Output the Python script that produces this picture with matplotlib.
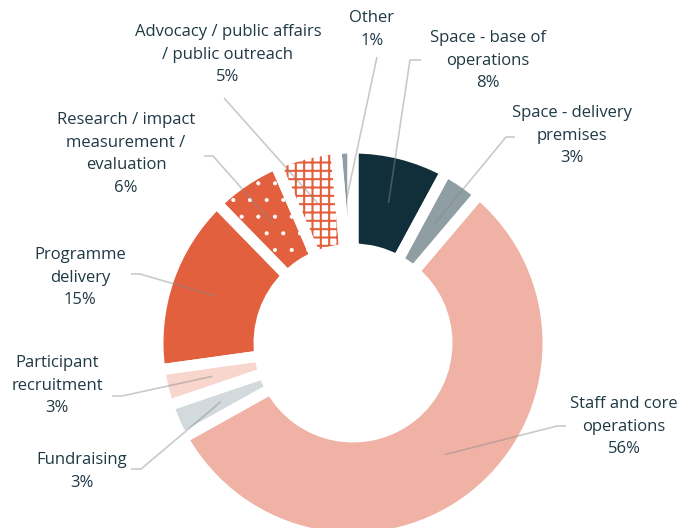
import matplotlib
matplotlib.use("Agg")
import matplotlib.pyplot as plt
import numpy as np

W, H = 681, 528

# ---- data ----
categories = ["Space - base of operations", "Space - delivery premises",
              "Staff and core operations", "Fundraising", "Participant recruitment",
              "Programme delivery", "Research / impact measurement / evaluation",
              "Advocacy / public affairs / public outreach", "Other"]
shares = [7.9, 3.3, 55.7, 2.9, 3.0, 14.9, 5.8, 5.1, 1.4]
pct_labels = ["8%", "3%", "56%", "3%", "3%", "15%", "6%", "5%", "1%"]
label_lines = [
    ["Space - base of", "operations"],
    ["Space - delivery", "premises"],
    ["Staff and core", "operations"],
    ["Fundraising"],
    ["Participant", "recruitment"],
    ["Programme", "delivery"],
    ["Research / impact", "measurement /", "evaluation"],
    ["Advocacy / public affairs", "/ public outreach"],
    ["Other"],
]

# ---- styles ----
ORANGE = "#E3603F"
face_colors = ["#102F3B", "#8E9EA3", "#F0B2A5", "#D3DADD", "#F8D6CE",
               ORANGE, ORANGE, "white", "#8E9EA3"]
hatch_colors = [None, None, None, None, None, None, "white", ORANGE, None]
hatches = [None, None, None, None, None, None, ".", "++", None]
TEXT = "#1F3945"

# label layout (pixel coordinates from top-left; first line centre)
label_pos = [(488, 38), (572, 113), (624, 404), (82, 460), (57, 363),
             (80, 255), (126, 120), (228, 32), (372, 18)]
leader_start = [(421, 60), (515, 137), (566, 426), (131, 469), (112, 396),
                (131, 274), (204, 156), (224, 98), (377, 57)]
leader_elbow = [(410, 60), (506, 137), (557, 426), (141, 469), (122, 396),
                (140, 274), (213, 156), None, None]
PITCH = 22.6

def Y(y):
    return H - y

plt.rcParams["hatch.linewidth"] = 1.5
plt.rcParams["font.family"] = ["Open Sans", "DejaVu Sans"]

fig = plt.figure(figsize=(W / 100, H / 100), dpi=100)
ax = fig.add_axes([0, 0, 1, 1])

R = 195
WID = 101
CEN = (353, Y(343))

wedges, _ = ax.pie(shares, colors=face_colors, startangle=90, counterclock=False,
                   radius=R, center=CEN,
                   wedgeprops=dict(width=WID, linewidth=0))
for w, hc, h in zip(wedges, hatch_colors, hatches):
    if h:
        w.set_edgecolor(hc)
        w.set_hatch(h)
        if h == ".":
            if hasattr(w, "set_hatch_linewidth"):
                w.set_hatch_linewidth(0.5)
            else:
                w._hatch_linewidth = 0.5

# white gaps
ax.pie(shares, colors=["none"] * len(shares), startangle=90, counterclock=False,
       radius=R, center=CEN,
       wedgeprops=dict(width=WID, linewidth=7.9, edgecolor="white", fill=False))

# leader lines
rmid = R - WID / 2
for i, w in enumerate(wedges):
    a = np.radians((w.theta1 + w.theta2) / 2)
    ex = w.center[0] + rmid * np.cos(a)
    ey = w.center[1] + rmid * np.sin(a)
    pts = [leader_start[i]]
    if leader_elbow[i] is not None:
        pts.append(leader_elbow[i])
    xs = [p[0] for p in pts] + [ex]
    ys = [Y(p[1]) for p in pts] + [ey]
    ax.plot(xs, ys, color="#8a8a8a", alpha=0.45, lw=1.2, zorder=5,
            solid_capstyle="butt")

# labels
for i in range(len(categories)):
    x0, y0 = label_pos[i]
    lines = label_lines[i] + [pct_labels[i]]
    for j, s in enumerate(lines):
        ax.text(x0, Y(y0 + j * PITCH), s, ha="center", va="center",
                fontsize=12, color=TEXT, zorder=6)

ax.set_xlim(0, W)
ax.set_ylim(0, H)
ax.set_aspect("equal")
ax.axis("off")

fig.savefig("out.png", dpi=100, facecolor="white")
